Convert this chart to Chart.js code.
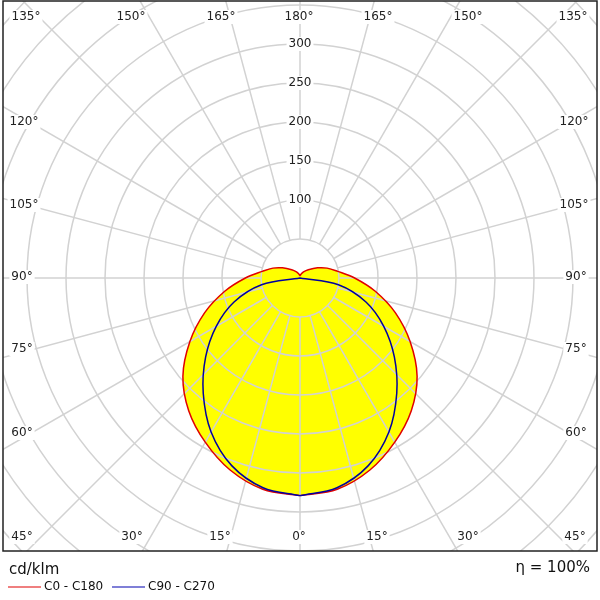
<!DOCTYPE html>
<html lang="en">

<head>
    <title>Polar</title>
    <meta charset="utf-8" />
    <script src="https://cdn.jsdelivr.net/npm/chart.js"></script>
    <style>
        body { margin: 0; background: #fff; }
        #wrap { width: 600px; height: 600px; }
    </style>
</head>

<body>
    <div id="wrap"><canvas id="grafico"></canvas></div>

    <script>
        // angles in degrees from nadir, intensity in cd/klm
        const angulos = [0, 10, 20, 30, 40, 50, 60, 70, 80, 90, 100, 110, 120, 135, 150, 165, 180];
        const c0c180 = [279, 275, 262, 243, 222, 196, 163, 130, 98, 70, 49, 37, 26, 15, 9, 5, 3];
        const c90c270 = [279, 273, 256, 228, 193, 158, 124, 90, 50, 0, 0, 0, 0, 0, 0, 0, 0];
        const anillos = [50, 100, 150, 200, 250, 300, 350, 400, 450, 500, 550];
        const etiquetasRadio = [100, 150, 200, 250, 300];
        const etiquetasAngulo = [
            ["135°", 26, 17], ["150°", 131, 17], ["165°", 221, 17], ["180°", 299, 17], ["165°", 378, 17], ["150°", 468, 17], ["135°", 573, 17],
            ["120°", 24, 122], ["105°", 24, 205], ["90°", 22, 277], ["75°", 22, 349], ["60°", 22, 433],
            ["120°", 574, 122], ["105°", 574, 205], ["90°", 576, 277], ["75°", 576, 349], ["60°", 576, 433],
            ["45°", 22, 537], ["30°", 132, 537], ["15°", 220, 537], ["0°", 299, 537], ["15°", 377, 537], ["30°", 468, 537], ["45°", 575, 537]
        ];

        function curva(valores) {
            const pts = [];
            angulos.forEach((a, i) => {
                const t = a * Math.PI / 180;
                pts.push({ x: valores[i] * Math.sin(t), y: -valores[i] * Math.cos(t) });
            });
            for (let i = angulos.length - 2; i >= 0; i--) {
                const t = angulos[i] * Math.PI / 180;
                pts.push({ x: -valores[i] * Math.sin(t), y: -valores[i] * Math.cos(t) });
            }
            return pts;
        }

        const FUENTE = "DejaVu Sans, Verdana, sans-serif";

        const rejilla = {
            id: 'rejilla',
            afterDatasetDraw(chart, args) {
                if (args.index !== 0) return;
                const ctx = chart.ctx, sx = chart.scales.x, sy = chart.scales.y, a = chart.chartArea;
                const cx = sx.getPixelForValue(0), cy = sy.getPixelForValue(0);
                const k = sx.getPixelForValue(100) - cx;
                ctx.save();
                ctx.beginPath();
                ctx.rect(a.left, a.top, a.right - a.left, a.bottom - a.top);
                ctx.clip();
                ctx.strokeStyle = '#d2d2d2';
                ctx.lineWidth = 1.5;
                anillos.forEach(r => {
                    ctx.beginPath();
                    ctx.arc(cx, cy, r * k / 100, 0, Math.PI * 2);
                    ctx.stroke();
                });
                for (let g = 0; g < 360; g += 15) {
                    const t = g * Math.PI / 180;
                    ctx.beginPath();
                    ctx.moveTo(cx + Math.sin(t) * 50 * k / 100, cy + Math.cos(t) * 50 * k / 100);
                    ctx.lineTo(cx + Math.sin(t) * 700 * k / 100, cy + Math.cos(t) * 700 * k / 100);
                    ctx.stroke();
                }
                ctx.restore();
            },
            afterDraw(chart) {
                const ctx = chart.ctx, sx = chart.scales.x, sy = chart.scales.y, a = chart.chartArea;
                const cx = sx.getPixelForValue(0);
                ctx.save();
                ctx.font = "12px " + FUENTE;
                ctx.textAlign = 'center';
                ctx.textBaseline = 'middle';
                etiquetasRadio.forEach(r => {
                    const y = sy.getPixelForValue(r);
                    const w = ctx.measureText(String(r)).width + 4;
                    ctx.fillStyle = '#fff';
                    ctx.fillRect(cx - w / 2, y - 7, w, 14);
                    ctx.fillStyle = '#222';
                    ctx.fillText(String(r), cx, y);
                });
                etiquetasAngulo.forEach(([t, x, y]) => {
                    const w = ctx.measureText(t).width + 4;
                    ctx.fillStyle = '#fff';
                    ctx.fillRect(x - w / 2, y - 7, w, 14);
                    ctx.fillStyle = '#222';
                    ctx.fillText(t, x, y);
                });
                ctx.strokeStyle = '#222';
                ctx.lineWidth = 1.5;
                ctx.strokeRect(a.left, a.top, a.right - a.left, a.bottom - a.top);

                ctx.textAlign = 'left';
                ctx.fillStyle = '#111';
                ctx.font = "15px " + FUENTE;
                ctx.fillText("cd/klm", 9, 570);
                ctx.textAlign = 'right';
                ctx.fillText("η = 100%", 590, 568);
                ctx.textAlign = 'left';
                ctx.font = "12px " + FUENTE;
                ctx.lineWidth = 1.2;
                ctx.strokeStyle = '#e00000';
                ctx.beginPath(); ctx.moveTo(8, 587); ctx.lineTo(41, 587); ctx.stroke();
                ctx.fillText("C0 - C180", 44, 587);
                ctx.strokeStyle = '#0000b0';
                ctx.beginPath(); ctx.moveTo(112, 587); ctx.lineTo(145, 587); ctx.stroke();
                ctx.fillText("C90 - C270", 148, 587);
                ctx.restore();
            }
        };

        document.addEventListener("DOMContentLoaded", () => {
            const ctx = document.querySelector("#grafico").getContext('2d');
            new Chart(ctx, {
                type: 'scatter',
                data: {
                    datasets: [{
                        data: curva(c0c180),
                        order: 3,
                        showLine: true,
                        tension: 0.35,
                        borderWidth: 0,
                        pointRadius: 0,
                        backgroundColor: '#ffff00',
                        fill: 'shape'
                    }, {
                        label: 'C0 - C180',
                        data: curva(c0c180),
                        order: 2,
                        showLine: true,
                        tension: 0.35,
                        borderColor: '#e00000',
                        borderWidth: 1.5,
                        pointRadius: 0,
                        fill: false
                    }, {
                        label: 'C90 - C270',
                        data: curva(c90c270),
                        order: 1,
                        showLine: true,
                        tension: 0.35,
                        borderColor: '#0000a0',
                        borderWidth: 1.5,
                        pointRadius: 0,
                        fill: false
                    }]
                },
                options: {
                    responsive: true,
                    maintainAspectRatio: false,
                    animation: false,
                    layout: { padding: { left: 3, right: 3, top: 1, bottom: 49 } },
                    scales: {
                        x: { display: false, min: -380.8, max: 380.8 },
                        y: { display: false, min: -350, max: 355.1 }
                    },
                    plugins: { legend: { display: false }, tooltip: { enabled: false } }
                },
                plugins: [rejilla]
            });
        });
    </script>
</body>

</html>
